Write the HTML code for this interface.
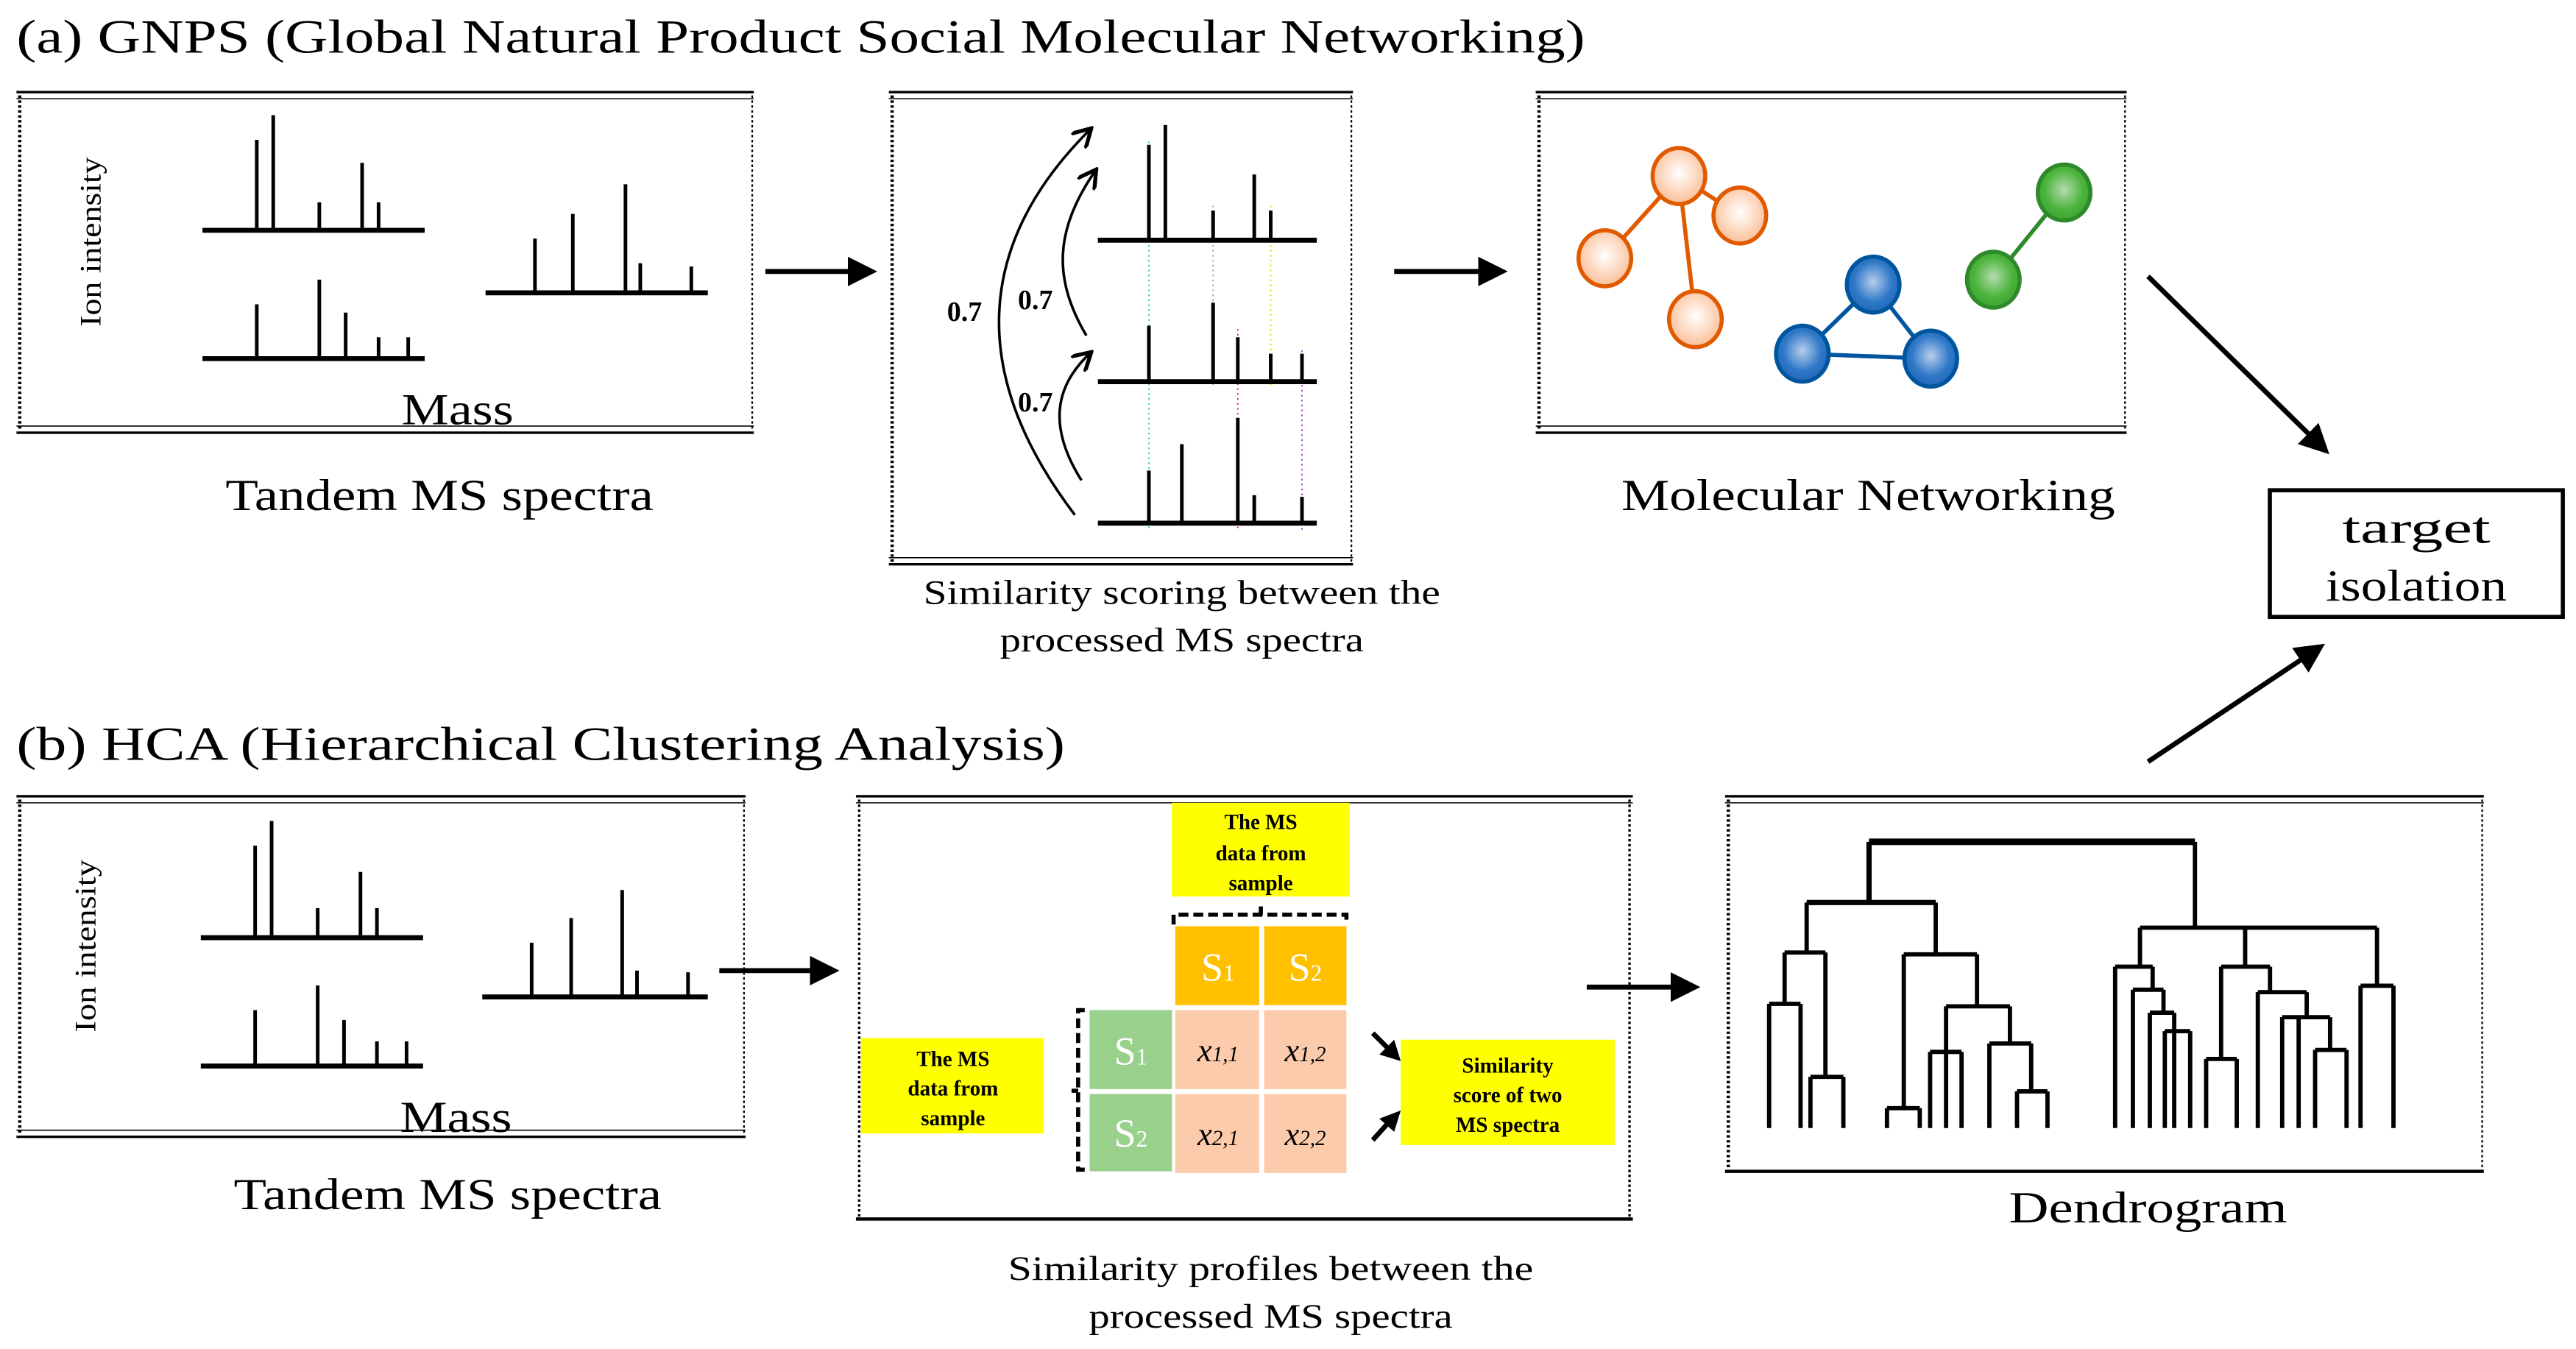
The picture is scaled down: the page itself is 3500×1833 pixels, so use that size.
<!DOCTYPE html>
<html><head><meta charset="utf-8"><style>
html,body{margin:0;padding:0;background:#fff;}
svg{display:block;}
text{font-family:"Liberation Serif",serif;fill:#000;}
</style></head><body>
<svg width="3500" height="1833" viewBox="0 0 1565 820" preserveAspectRatio="none" xmlns="http://www.w3.org/2000/svg">
<defs>
<marker id="ah" markerWidth="6" markerHeight="6" refX="5" refY="3" orient="auto" markerUnits="strokeWidth"><path d="M0,0 L6,3 L0,6 Z" fill="#000"/></marker>
<marker id="oh" markerWidth="8" markerHeight="8" refX="7" refY="4" orient="auto" markerUnits="strokeWidth"><path d="M0,0 L7,4 L0,8" fill="none" stroke="#000" stroke-width="1.5"/></marker>
<radialGradient id="go" cx="0.5" cy="0.45" r="0.6"><stop offset="0" stop-color="#fff"/><stop offset="1" stop-color="#fbb88c"/></radialGradient>
<radialGradient id="gb" cx="0.5" cy="0.45" r="0.6"><stop offset="0" stop-color="#b8cdeb"/><stop offset="0.6" stop-color="#2f78c8"/><stop offset="1" stop-color="#1e64b4"/></radialGradient>
<radialGradient id="gg" cx="0.5" cy="0.45" r="0.6"><stop offset="0" stop-color="#b5dcb0"/><stop offset="0.6" stop-color="#4cb43c"/><stop offset="1" stop-color="#3aa030"/></radialGradient>
</defs>

<text x="10" y="32" font-size="29" textLength="953" lengthAdjust="spacingAndGlyphs">(a) GNPS (Global Natural Product Social Molecular Networking)</text>
<text x="10" y="462" font-size="29" textLength="637" lengthAdjust="spacingAndGlyphs">(b) HCA (Hierarchical Clustering Analysis)</text>

<g fill="none" stroke="#000">
<line x1="10" y1="56" x2="458" y2="56" stroke-width="1.5"/><line x1="10" y1="60" x2="458" y2="60" stroke-width="0.7"/>
<line x1="10" y1="259" x2="458" y2="259" stroke-width="0.7"/><line x1="10" y1="263" x2="458" y2="263" stroke-width="1.5"/>
<line x1="12" y1="58" x2="12" y2="262" stroke-width="2" stroke-dasharray="1.5 1.5"/><line x1="457" y1="58" x2="457" y2="262" stroke-width="1" stroke-dasharray="1.5 1.5"/>
<line x1="540" y1="56" x2="822" y2="56" stroke-width="1.5"/><line x1="540" y1="60" x2="822" y2="60" stroke-width="0.7"/>
<line x1="540" y1="339" x2="822" y2="339" stroke-width="0.7"/><line x1="540" y1="343" x2="822" y2="343" stroke-width="1.5"/>
<line x1="542" y1="58" x2="542" y2="342" stroke-width="2" stroke-dasharray="1.5 1.5"/><line x1="821" y1="58" x2="821" y2="342" stroke-width="1" stroke-dasharray="1.5 1.5"/>
<line x1="933" y1="56" x2="1292" y2="56" stroke-width="1.5"/><line x1="933" y1="60" x2="1292" y2="60" stroke-width="0.7"/>
<line x1="933" y1="259" x2="1292" y2="259" stroke-width="0.7"/><line x1="933" y1="263" x2="1292" y2="263" stroke-width="1.5"/>
<line x1="935" y1="58" x2="935" y2="262" stroke-width="2" stroke-dasharray="1.5 1.5"/><line x1="1291" y1="58" x2="1291" y2="262" stroke-width="1" stroke-dasharray="1.5 1.5"/>
<line x1="10" y1="484" x2="453" y2="484" stroke-width="1.5"/><line x1="10" y1="488" x2="453" y2="488" stroke-width="0.7"/>
<line x1="10" y1="687" x2="453" y2="687" stroke-width="0.7"/><line x1="10" y1="691" x2="453" y2="691" stroke-width="1.5"/>
<line x1="12" y1="486" x2="12" y2="690" stroke-width="2" stroke-dasharray="1.5 1.5"/><line x1="452" y1="486" x2="452" y2="690" stroke-width="1" stroke-dasharray="1.5 1.5"/>
<line x1="520" y1="484" x2="992" y2="484" stroke-width="1.5"/><line x1="520" y1="488" x2="992" y2="488" stroke-width="0.7"/>
<line x1="520" y1="741" x2="992" y2="741" stroke-width="2"/>
<line x1="522" y1="486" x2="522" y2="740" stroke-width="1.5" stroke-dasharray="1.5 1.5"/><line x1="990" y1="486" x2="990" y2="740" stroke-width="1.5" stroke-dasharray="1.5 1.5"/>
<line x1="1048" y1="484" x2="1509" y2="484" stroke-width="1.5"/><line x1="1048" y1="488" x2="1509" y2="488" stroke-width="0.7"/>
<line x1="1048" y1="712" x2="1509" y2="712" stroke-width="2"/>
<line x1="1050" y1="486" x2="1050" y2="711" stroke-width="2" stroke-dasharray="1.5 1.5"/><line x1="1508" y1="486" x2="1508" y2="711" stroke-width="1" stroke-dasharray="1.5 1.5"/>
<rect x="1379" y="298" width="178" height="77" stroke-width="2.5"/>
</g>

<g stroke="#000" stroke-width="2.2">
<line x1="123" y1="140" x2="258" y2="140" stroke-width="3"/>
<line x1="156" y1="140" x2="156" y2="85"/><line x1="166" y1="140" x2="166" y2="70"/><line x1="194" y1="140" x2="194" y2="123"/><line x1="220" y1="140" x2="220" y2="99"/><line x1="230" y1="140" x2="230" y2="123"/>
<line x1="123" y1="218" x2="258" y2="218" stroke-width="3"/>
<line x1="156" y1="218" x2="156" y2="185"/><line x1="194" y1="218" x2="194" y2="170"/><line x1="210" y1="218" x2="210" y2="190"/><line x1="230" y1="218" x2="230" y2="205"/><line x1="248" y1="218" x2="248" y2="205"/>
<line x1="295" y1="178" x2="430" y2="178" stroke-width="3"/>
<line x1="325" y1="178" x2="325" y2="145"/><line x1="348" y1="178" x2="348" y2="130"/><line x1="380" y1="178" x2="380" y2="112"/><line x1="389" y1="178" x2="389" y2="160"/><line x1="420" y1="178" x2="420" y2="162"/>
</g>
<text transform="translate(61,147) rotate(-90)" font-size="18" text-anchor="middle" textLength="103" lengthAdjust="spacingAndGlyphs">Ion intensity</text>
<text x="278" y="258" font-size="27" text-anchor="middle" textLength="68" lengthAdjust="spacingAndGlyphs">Mass</text>
<text x="267" y="310" font-size="27" text-anchor="middle" textLength="260" lengthAdjust="spacingAndGlyphs">Tandem MS spectra</text>

<g stroke="#000" stroke-width="2.2">
<line x1="122" y1="570" x2="257" y2="570" stroke-width="3"/>
<line x1="155" y1="570" x2="155" y2="514"/><line x1="165" y1="570" x2="165" y2="499"/><line x1="193" y1="570" x2="193" y2="552"/><line x1="219" y1="570" x2="219" y2="530"/><line x1="229" y1="570" x2="229" y2="552"/>
<line x1="122" y1="648" x2="257" y2="648" stroke-width="3"/>
<line x1="155" y1="648" x2="155" y2="614"/><line x1="193" y1="648" x2="193" y2="599"/><line x1="209" y1="648" x2="209" y2="620"/><line x1="229" y1="648" x2="229" y2="633"/><line x1="247" y1="648" x2="247" y2="633"/>
<line x1="293" y1="606" x2="430" y2="606" stroke-width="3"/>
<line x1="323" y1="606" x2="323" y2="573"/><line x1="347" y1="606" x2="347" y2="558"/><line x1="378" y1="606" x2="378" y2="541"/><line x1="387" y1="606" x2="387" y2="590"/><line x1="418" y1="606" x2="418" y2="591"/>
</g>
<text transform="translate(58,575) rotate(-90)" font-size="18" text-anchor="middle" textLength="105" lengthAdjust="spacingAndGlyphs">Ion intensity</text>
<text x="277" y="688" font-size="27" text-anchor="middle" textLength="68" lengthAdjust="spacingAndGlyphs">Mass</text>
<text x="272" y="735" font-size="27" text-anchor="middle" textLength="260" lengthAdjust="spacingAndGlyphs">Tandem MS spectra</text>

<g stroke-width="0.8" stroke-dasharray="1 2" fill="none">
<line x1="698" y1="86" x2="698" y2="322" stroke="#2c9"/>
<line x1="737" y1="125" x2="737" y2="234" stroke="#99b"/>
<line x1="772" y1="125" x2="772" y2="234" stroke="#dd0"/>
<line x1="752" y1="200" x2="752" y2="322" stroke="#e22"/>
<line x1="791" y1="213" x2="791" y2="324" stroke="#93c"/>
</g>
<g stroke="#000" stroke-width="2.2">
<line x1="667" y1="146" x2="800" y2="146" stroke-width="3"/>
<line x1="698" y1="146" x2="698" y2="88"/><line x1="708" y1="146" x2="708" y2="76"/><line x1="737" y1="146" x2="737" y2="128"/><line x1="762" y1="146" x2="762" y2="106"/><line x1="772" y1="146" x2="772" y2="128"/>
<line x1="667" y1="232" x2="800" y2="232" stroke-width="3"/>
<line x1="698" y1="232" x2="698" y2="198"/><line x1="737" y1="232" x2="737" y2="184"/><line x1="752" y1="232" x2="752" y2="205"/><line x1="772" y1="232" x2="772" y2="215"/><line x1="791" y1="232" x2="791" y2="215"/>
<line x1="667" y1="318" x2="800" y2="318" stroke-width="3"/>
<line x1="698" y1="318" x2="698" y2="286"/><line x1="718" y1="318" x2="718" y2="270"/><line x1="752" y1="318" x2="752" y2="254"/><line x1="762" y1="318" x2="762" y2="301"/><line x1="791" y1="318" x2="791" y2="302"/>
</g>
<g fill="none" stroke="#000" stroke-width="1.6">
<path d="M653,313 C590,230 590,150 663,78" marker-end="url(#oh)"/>
<path d="M660,204 C640,170 640,140 666,103" marker-end="url(#oh)"/>
<path d="M657,292 C637,260 640,235 663,214" marker-end="url(#oh)"/>
</g>
<text x="586" y="195" font-size="17" font-weight="bold" text-anchor="middle">0.7</text>
<text x="629" y="188" font-size="17" font-weight="bold" text-anchor="middle">0.7</text>
<text x="629" y="250" font-size="17" font-weight="bold" text-anchor="middle">0.7</text>
<text x="718" y="367" font-size="21" text-anchor="middle" textLength="314" lengthAdjust="spacingAndGlyphs">Similarity  scoring between the</text>
<text x="718" y="396" font-size="21" text-anchor="middle" textLength="221" lengthAdjust="spacingAndGlyphs">processed MS spectra</text>

<g stroke="#000" stroke-width="3" fill="none">
<line x1="465" y1="165" x2="530" y2="165" marker-end="url(#ah)"/>
<line x1="847" y1="165" x2="913" y2="165" marker-end="url(#ah)"/>
<line x1="1305" y1="168" x2="1413" y2="274" marker-end="url(#ah)"/>
<line x1="1305" y1="463" x2="1410" y2="393" marker-end="url(#ah)"/>
<line x1="437" y1="590" x2="507" y2="590" marker-end="url(#ah)"/>
<line x1="964" y1="600" x2="1030" y2="600" marker-end="url(#ah)"/>
</g>

<g stroke-width="2.5">
<line x1="1020" y1="107" x2="975" y2="157" stroke="#e05a00"/>
<line x1="1020" y1="107" x2="1057" y2="131" stroke="#e05a00"/>
<line x1="1020" y1="107" x2="1030" y2="194" stroke="#e05a00"/>
<line x1="1138" y1="173" x2="1095" y2="215" stroke="#00559f"/>
<line x1="1138" y1="173" x2="1173" y2="218" stroke="#00559f"/>
<line x1="1095" y1="215" x2="1173" y2="218" stroke="#00559f"/>
<line x1="1254" y1="117" x2="1211" y2="170" stroke="#2e8a2a"/>
<g fill="url(#go)" stroke="#e05a00">
<ellipse cx="1020" cy="107" rx="16" ry="17"/><ellipse cx="975" cy="157" rx="16" ry="17"/><ellipse cx="1057" cy="131" rx="16" ry="17"/><ellipse cx="1030" cy="194" rx="16" ry="17"/>
</g>
<g fill="url(#gb)" stroke="#00559f">
<ellipse cx="1138" cy="173" rx="16" ry="17"/><ellipse cx="1095" cy="215" rx="16" ry="17"/><ellipse cx="1173" cy="218" rx="16" ry="17"/>
</g>
<g fill="url(#gg)" stroke="#2e8a2a">
<ellipse cx="1254" cy="117" rx="16" ry="17"/><ellipse cx="1211" cy="170" rx="16" ry="17"/>
</g>
</g>
<text x="1135" y="310" font-size="27" text-anchor="middle" textLength="300" lengthAdjust="spacingAndGlyphs">Molecular Networking</text>
<text x="1468" y="330" font-size="27" text-anchor="middle" textLength="90" lengthAdjust="spacingAndGlyphs">target</text>
<text x="1468" y="365" font-size="27" text-anchor="middle" textLength="110" lengthAdjust="spacingAndGlyphs">isolation</text>

<rect x="712" y="488" width="108" height="57" fill="#ffff00"/>
<text x="766" y="504" font-size="13" font-weight="bold" text-anchor="middle">The MS</text>
<text x="766" y="523" font-size="13" font-weight="bold" text-anchor="middle">data from</text>
<text x="766" y="541" font-size="13" font-weight="bold" text-anchor="middle">sample</text>
<path d="M713,562 L713,556 L818,556 L818,562 M766,556 L766,551" fill="none" stroke="#000" stroke-width="2.5" stroke-dasharray="6 3"/>
<rect x="714" y="563" width="51" height="48" fill="#ffc000"/>
<rect x="768" y="563" width="50" height="48" fill="#ffc000"/>
<text x="740" y="596" font-size="24" style="fill:#fff" text-anchor="middle">S<tspan font-size="14">1</tspan></text>
<text x="793" y="596" font-size="24" style="fill:#fff" text-anchor="middle">S<tspan font-size="14">2</tspan></text>
<rect x="662" y="614" width="50" height="48" fill="#98d08c"/>
<rect x="662" y="665" width="50" height="47" fill="#98d08c"/>
<text x="687" y="647" font-size="24" style="fill:#fff" text-anchor="middle">S<tspan font-size="14">1</tspan></text>
<text x="687" y="697" font-size="24" style="fill:#fff" text-anchor="middle">S<tspan font-size="14">2</tspan></text>
<rect x="714" y="614" width="51" height="48" fill="#fccbab"/>
<rect x="768" y="614" width="50" height="48" fill="#fccbab"/>
<rect x="714" y="665" width="51" height="48" fill="#fccbab"/>
<rect x="768" y="665" width="50" height="48" fill="#fccbab"/>
<g font-size="20" font-style="italic" text-anchor="middle">
<text x="740" y="645">x<tspan font-size="13">1,1</tspan></text>
<text x="793" y="645">x<tspan font-size="13">1,2</tspan></text>
<text x="740" y="696">x<tspan font-size="13">2,1</tspan></text>
<text x="793" y="696">x<tspan font-size="13">2,2</tspan></text>
</g>
<path d="M659,614 L655,614 L655,711 L659,711 M655,663 L651,663" fill="none" stroke="#000" stroke-width="2.5" stroke-dasharray="6 3"/>
<rect x="523" y="631" width="111" height="58" fill="#ffff00"/>
<text x="579" y="648" font-size="13" font-weight="bold" text-anchor="middle">The MS</text>
<text x="579" y="666" font-size="13" font-weight="bold" text-anchor="middle">data from</text>
<text x="579" y="684" font-size="13" font-weight="bold" text-anchor="middle">sample</text>
<rect x="851" y="632" width="130" height="64" fill="#ffff00"/>
<text x="916" y="652" font-size="13" font-weight="bold" text-anchor="middle">Similarity</text>
<text x="916" y="670" font-size="13" font-weight="bold" text-anchor="middle">score of two</text>
<text x="916" y="688" font-size="13" font-weight="bold" text-anchor="middle">MS spectra</text>
<!-- small arrows into similarity box -->
<g stroke="#000" stroke-width="3">
<line x1="834" y1="628" x2="843" y2="637"/>
<line x1="834" y1="693" x2="843" y2="683"/>
</g>
<polygon points="851,645 838,641 847,632" fill="#000"/>
<polygon points="851,675 847,688 838,680" fill="#000"/>
<text x="772" y="778" font-size="21" text-anchor="middle" textLength="319" lengthAdjust="spacingAndGlyphs">Similarity  profiles between the</text>
<text x="772" y="807" font-size="21" text-anchor="middle" textLength="221" lengthAdjust="spacingAndGlyphs">processed MS spectra</text>

<g fill="none" stroke="#000" stroke-width="2.6">
<path d="M1135.5,511.7 H1333.5" stroke-width="4"/>
<path d="M1135.5,511.7 V548.6 M1097.6,548.6 H1176" stroke-width="3.2"/>
<path d="M1097.6,548.6 V579 M1084.2,579 H1109"/>
<path d="M1084.2,579 V610.2 M1074.8,610.2 H1093.9 M1074.8,610.2 V685.7 M1093.9,610.2 V685.7"/>
<path d="M1109,579 V654.6 M1099.9,654.6 H1119.9 M1099.9,654.6 V685.7 M1119.9,654.6 V685.7"/>
<path d="M1176,548.6 V580.1 M1156.6,580.1 H1201.1"/>
<path d="M1156.6,580.1 V673.6 M1146.4,673.6 H1166.3 M1146.4,673.6 V685.7 M1166.3,673.6 V685.7"/>
<path d="M1201.1,580.1 V611.7 M1182.3,611.7 H1221.1"/>
<path d="M1182.3,611.7 V639.4 M1172.6,639.4 H1191.7 M1172.6,639.4 V685.7 M1182.3,639.4 V685.7 M1191.7,639.4 V685.7"/>
<path d="M1221.1,611.7 V634.3 M1208.6,634.3 H1234 M1208.6,634.3 V685.7 M1234,634.3 V663.4 M1225.4,663.4 H1243.9 M1225.4,663.4 V685.7 M1243.9,663.4 V685.7"/>
<path d="M1333.5,511.7 V563.9 M1300.1,563.9 H1444.1 M1364,563.9 V587.6"/>
<path d="M1300.1,563.9 V587.6 M1285,587.6 H1307.8 M1285,587.6 V685.7 M1307.8,587.6 V601.6 M1295.8,601.6 H1314.4 M1295.8,601.6 V685.7 M1314.4,601.6 V615.6 M1306.1,615.6 H1320.9 M1306.1,615.6 V685.7 M1320.9,615.6 V626.8 M1315.2,626.8 H1330.6 M1315.2,626.8 V685.7 M1320.9,626.8 V685.7 M1330.6,626.8 V685.7"/>
<path d="M1349.4,587.6 H1379.1 M1349.4,587.6 V643.7 M1340.3,643.7 H1358.9 M1340.3,643.7 V685.7 M1358.9,643.7 V685.7"/>
<path d="M1379.1,587.6 V603.1 M1371.7,603.1 H1401.4 M1371.7,603.1 V685.7 M1401.4,603.1 V618.3 M1386.5,618.3 H1415.6 M1386.5,618.3 V685.7 M1396.5,618.3 V685.7 M1415.6,618.3 V638.2 M1406.5,638.2 H1425.6 M1406.5,638.2 V685.7 M1425.6,638.2 V685.7"/>
<path d="M1444.1,563.9 V599.2 M1434.1,599.2 H1454.1 M1434.1,599.2 V685.7 M1454.1,599.2 V685.7"/>
</g>
<text x="1305" y="743" font-size="27" text-anchor="middle" textLength="169" lengthAdjust="spacingAndGlyphs">Dendrogram</text>
</svg>
</body></html>
